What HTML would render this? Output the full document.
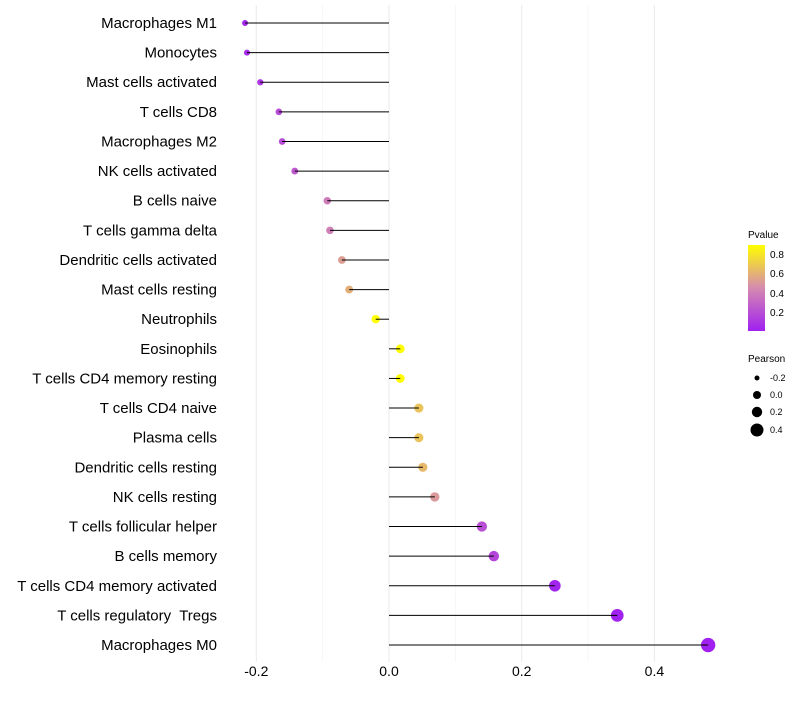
<!DOCTYPE html>
<html><head><meta charset="utf-8"><style>
body{margin:0;background:#fff;font-family:"Liberation Sans",sans-serif}
</style></head><body>
<svg id="chart" width="800" height="700" xmlns="http://www.w3.org/2000/svg">
<defs><linearGradient id="pg" x1="0" y1="1" x2="0" y2="0">
<stop offset="0" stop-color="#A020F0"/><stop offset="0.5" stop-color="#D58AB0"/><stop offset="1" stop-color="#FFFF00"/>
</linearGradient></defs>
<g id="grid"></g><g id="points"></g><g id="marks"></g><g id="labels"></g>
<g font-size="10" fill="#000">
<text x="748" y="238" font-size="10">Pvalue</text>
<rect x="748" y="245" width="17" height="86" fill="url(#pg)"/>
<text x="770" y="258">0.8</text><text x="770" y="277">0.6</text><text x="770" y="297">0.4</text><text x="770" y="316">0.2</text>
</g>
<g font-size="9">
<text x="748" y="362" font-size="10">Pearson</text>
<circle cx="757" cy="378" r="2.5"/><text x="770" y="381">-0.2</text>
<circle cx="757" cy="395" r="4"/><text x="770" y="398">0.0</text>
<circle cx="757" cy="412" r="5.2"/><text x="770" y="415">0.2</text>
<circle cx="757" cy="430" r="6.5"/><text x="770" y="433">0.4</text>
</g>
</svg>
<script>
const categories=["Macrophages M1","Monocytes","Mast cells activated","T cells CD8","Macrophages M2","NK cells activated","B cells naive","T cells gamma delta","Dendritic cells activated","Mast cells resting","Neutrophils","Eosinophils","T cells CD4 memory resting","T cells CD4 naive","Plasma cells","Dendritic cells resting","NK cells resting","T cells follicular helper","B cells memory","T cells CD4 memory activated","T cells regulatory  Tregs","Macrophages M0"];
const pearson=[-0.217,-0.214,-0.194,-0.166,-0.161,-0.142,-0.093,-0.089,-0.071,-0.060,-0.020,0.017,0.017,0.045,0.045,0.051,0.069,0.140,0.158,0.250,0.344,0.481];
const pvalue=[0.03,0.05,0.1,0.18,0.19,0.24,0.38,0.4,0.52,0.58,0.9,0.88,0.88,0.66,0.66,0.62,0.5,0.2,0.16,0.02,0.005,0.001];
const ticks=[-0.2,0,0.2,0.4];
const tickLabels=["-0.2","0.0","0.2","0.4"];
const minorTicks=[-0.1,0.1,0.3];
const ns="http://www.w3.org/2000/svg";
const xs=v=>389+v*663.5;
const ys=i=>23+i*29.62;
const rs=v=>Math.max(2.3,4.3+v*6);
function lerp(a,b,t){return a.map((x,i)=>Math.round(x+(b[i]-x)*t));}
function col(p){const t=Math.min(1,Math.max(0,p/0.887));const a=[160,32,240],m=[213,138,176],b=[255,255,0];const c=t<0.5?lerp(a,m,t*2):lerp(m,b,(t-0.5)*2);return `rgb(${c})`;}
function mk(t,at,parent){const e=document.createElementNS(ns,t);for(const k in at)e.setAttribute(k,at[k]);document.getElementById(parent).appendChild(e);return e;}
minorTicks.forEach(v=>{const l=mk('line',{x1:xs(v),x2:xs(v),y1:5,y2:662,stroke:'#f2f2f2','stroke-width':0.6},'grid');

});
ticks.forEach((v,i)=>{const l=mk('line',{x1:xs(v),x2:xs(v),y1:5,y2:662,stroke:'#ebebeb','stroke-width':1.1},'grid');


const t=mk('text',{x:xs(v),y:676,'text-anchor':'middle','font-size':14,fill:'#000'},'labels');t.textContent=tickLabels[i];

});
categories.forEach((c,i)=>{const y=ys(i);
const p=mk('circle',{cx:xs(pearson[i]),cy:y,r:rs(pearson[i]),fill:col(pvalue[i])},'points');


const l=mk('line',{x1:xs(0),x2:xs(pearson[i]),y1:y,y2:y,stroke:'#000','stroke-width':1},'marks');


const t=mk('text',{x:217,y:y+5,'text-anchor':'end','font-size':15,fill:'#000',style:'white-space:pre'},'labels');t.textContent=c;

});
</script>
</body></html>
